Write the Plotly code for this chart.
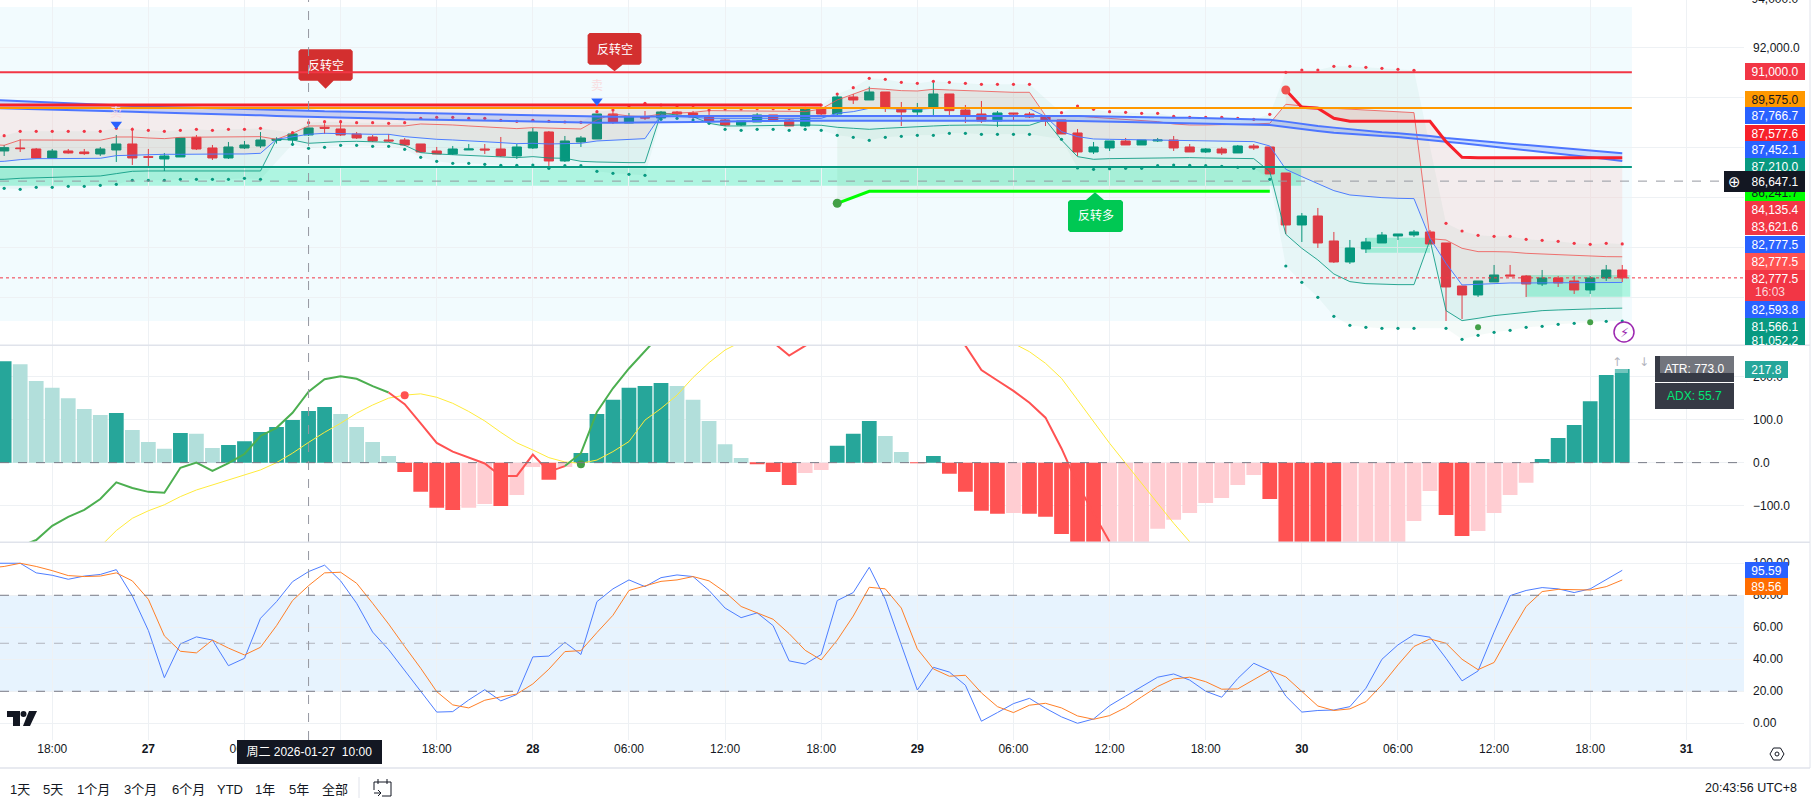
import pandas as pd
import plotly.graph_objects as go

W, H = 1813, 807
FONT = "Liberation Sans, Noto Sans CJK SC, sans-serif"

# BTC 1h bars, 2026-01-26 14:00 -> 2026-01-30 20:00 (first bar sits just off the left edge)
times = pd.date_range("2026-01-26 14:00", periods=103, freq="h")

opens = [87760,
         87853,87973,87933,87573,87853,87813,87733,87893,88133,87627,
         87533,87613,88400,87973,87573,87973,88053,88280,88293,88493,
         88800,88733,88533,88413,88293,88293,88133,87853,87733,87893,
         87933,87933,87653,87973,88613,87453,88213,88333,89333,88973,
         89213,89173,89413,89373,89253,89093,88893,89013,89293,89093,
         88853,89533,89333,90013,89893,90213,89573,89413,89613,90133,
         89493,89333,89053,89373,89333,89253,89093,88573,87813,87973,
         88253,88093,88253,88293,88013,87813,87933,87773,88053,88013,
         86973,84893,85253,84253,83413,83933,84173,84453,84493,84613,
         84173,82453,82093,82613,82893,82853,82533,82773,82653,82293,
         82773,83093]
highs = [87990,
         88093,88320,87973,87933,87933,87933,88013,88493,88787,87933,
         87773,88373,88493,88093,88213,88253,88613,88400,88613,88853,
         88960,89093,88613,88493,88533,88373,88133,88013,88053,88133,
         88133,88413,88133,88773,88653,88453,88453,89333,89493,89373,
         89453,89453,89453,89453,89533,89133,89053,89373,89293,89133,
         89533,89627,90160,90133,90427,90213,89813,89773,90627,90133,
         89693,89853,89453,89373,89413,89253,89093,88733,88213,88253,
         88373,88293,88373,88453,88133,87973,88013,88093,88133,88013,
         86973,85373,85573,84613,84293,84373,84613,84533,84693,84693,
         84173,82453,82653,83293,83293,82893,83093,82853,82853,82853,
         83293,83293]
lows = [87640,
        87653,87813,87560,87573,87747,87693,87653,87413,87293,87253,
        87053,87613,87893,87493,87533,87933,87973,88147,88053,88453,
        88533,88453,88333,88213,88213,88053,87813,87733,87693,87893,
        87733,87613,87533,87933,87253,87413,88013,88333,88933,88973,
        89093,89093,89133,89093,88933,88853,88853,89013,89053,88853,
        88813,89293,89253,89733,89893,89413,88853,89253,89227,89293,
        88973,88973,88813,89093,89173,88853,88533,87653,87733,87853,
        88093,88093,88213,87853,87813,87773,87693,87773,87893,86933,
        84533,84213,83973,83373,83333,83773,84173,84293,84413,84133,
        81053,81133,82013,82613,82853,82013,82453,82413,82133,82133,
        82653,82613]
closes = [87853,
          87987,87947,87573,87853,87773,87747,87933,88133,87573,87600,
          87653,88373,87933,87573,88013,88093,88293,88320,88533,88773,
          88760,88493,88373,88253,88253,88093,87813,87733,87933,87933,
          87893,87653,88013,88613,87453,88253,88373,89333,89013,89213,
          89173,89413,89333,89213,89053,88893,89053,89293,89053,88853,
          89533,89333,90013,89893,90213,89573,89413,89560,90133,89467,
          89293,89053,89373,89333,89213,89053,88533,87813,88013,88253,
          88093,88293,88293,87973,87813,87933,87773,88053,87973,86933,
          84893,85253,84173,83413,83973,84213,84493,84533,84613,84133,
          82413,82093,82653,82893,82853,82533,82773,82573,82293,82773,
          83093,82777.5]

# thin envelope lines
env_upper = [88120,
             88080,88293,88290,88295,88293,88290,88285,88413,88413,88373,
             88347,88400,88400,88400,88400,88413,88427,88320,88560,88853,
             88853,88853,88853,88840,88840,88853,88933,88920,88893,88853,
             88827,88773,88747,88787,88760,88733,88733,89093,89333,89253,
             89226,89333,89360,89400,89467,89467,89467,89453,89440,89440,
             89427,89533,89893,90133,90360,90320,90267,90253,90320,90293,
             90267,90227,90213,90200,90200,89267,89253,89253,89200,89160,
             89120,89093,89027,88933,88893,88893,88893,88920,88933,88960,
             89720,89653,89600,89560,89520,89493,89453,89427,89387,84347,
             84293,83960,83827,83827,83813,83760,83733,83680,83653,83627,
             83627,83621.6]
env_mid = [87420,
           87440,87507,87547,87547,87560,87560,87560,87667,87693,87707,
           87720,87720,87733,87733,87733,87733,87760,88320,88427,88520,
           88560,88560,88533,88520,88520,88427,88360,88320,88293,88267,
           88240,88187,88147,88160,88133,88133,88160,88253,88280,88293,
           88347,89293,89226,89200,89160,89160,89160,89160,89160,89160,
           89160,89160,89360,89427,89560,89547,89533,89520,89560,89560,
           89547,89547,89547,89547,89547,89226,88627,88427,88333,88320,
           88307,88293,88280,88267,88253,88240,88227,88227,88227,88053,
           87120,86827,86560,86267,86093,86027,85987,85960,85947,84360,
           83360,82493,82520,82560,82573,82573,82573,82573,82573,82573,
           82573,82593.8]
env_lower = [86715,
             86720,86760,86773,86787,86813,86827,86853,86947,87040,87053,
             87053,87053,87053,87053,87053,87053,87053,88320,88293,88160,
             88200,88227,88240,88227,88200,88080,87787,87733,87707,87680,
             87653,87600,87587,87627,87573,87560,87440,87413,87387,87387,
             87387,89360,89293,89226,88960,88853,88853,88867,88867,88867,
             88893,88880,88800,88760,88720,88760,88800,88827,88853,88880,
             88893,88893,88880,88880,88880,89093,88293,87627,87520,87547,
             87560,87573,87587,87600,87587,87573,87560,87560,87547,87027,
             84520,83960,83493,82933,82627,82547,82520,82507,82507,84293,
             81467,81067,81160,81267,81333,81400,81467,81493,81520,81545,
             81555,81566.1]

# stop dots above and below price
dots_upper = [88440,
              88467,88640,88640,88640,88640,88640,88640,88760,88720,88680,
              88640,88680,88720,88680,88720,88720,88760,None,88587,88987,
              89027,89027,88987,88987,88960,88987,89160,89200,89200,89160,
              89160,89080,89040,89080,89040,89013,89000,89427,89493,89653,
              89760,89693,89653,89600,89493,89533,89533,89547,89547,89547,
              89560,89693,90133,90387,90760,90720,90600,90560,90640,90600,
              90560,90520,90520,90520,90520,None,89387,89653,89520,89427,
              89400,89360,89360,89240,89200,89200,89200,89160,89120,89320,
              91000,91093,91093,91240,91240,91200,91160,91120,91080,None,
              84960,84653,84480,84440,84440,84320,84280,84240,84160,84120,
              84160,84135.4]
dots_lower = [86350,
              86360,86320,86400,86400,86440,86440,86480,86520,86680,86680,
              86680,86720,86720,86720,86720,86760,86720,None,88120,87960,
              88000,88080,88080,88040,88040,87920,87600,87440,87360,87360,
              87320,87280,87280,87293,87160,87267,87267,87040,86960,86920,
              86880,89120,89160,89093,88960,88720,88680,88720,88720,88680,
              88720,88680,88480,88400,88280,88400,88440,88480,88480,88560,
              88560,88520,88520,88520,88520,None,88320,87173,87120,87147,
              87160,87160,87267,87293,87280,87267,87240,87200,87160,86720,
              83253,82600,82000,81240,80880,80800,80760,80760,80760,None,
              80760,80320,80480,80600,80680,80800,80840,80920,80960,81000,
              81040,81052.2]

# thick trend lines
trend_red = [89693] * 53 + [None] * 28 + [90293,89600,89560,89160,89040,89040,89040,89040,89040,89040,
             88227,87600,87577.6,87577.6,87577.6,87577.6,87577.6,87577.6,87577.6,87577.6,87577.6,87577.6]
trend_lime = [None] * 53 + [85760,86013] + [86241.7] * 26 + [None] * 22

ema_top = [89905,
           89880,89853,89827,89800,89773,89747,89720,89680,89653,89627,
           89613,89600,89587,89573,89560,89547,89533,89507,89480,89467,
           89440,89427,89413,89400,89387,89373,89360,89347,89333,89320,
           89307,89293,89280,89267,89253,89240,89226,89226,89226,89226,
           89240,89240,89240,89253,89253,89253,89253,89267,89267,89267,
           89267,89267,89280,89280,89280,89280,89280,89280,89280,89280,
           89280,89280,89280,89280,89280,89280,89267,89253,89240,89226,
           89213,89200,89200,89187,89187,89173,89173,89160,89147,89107,
           89027,88933,88853,88787,88720,88653,88600,88560,88520,88453,
           88373,88307,88253,88200,88147,88093,88040,87987,87933,87880,
           87827,87766.7]
ema_bottom = [89575,
              89560,89547,89533,89520,89507,89493,89467,89440,89427,89400,
              89387,89360,89347,89333,89320,89293,89280,89253,89240,89226,
              89200,89187,89173,89160,89147,89120,89107,89093,89080,89067,
              89053,89040,89027,89013,89000,88987,88987,88987,88987,88987,
              89000,89000,89013,89013,89027,89027,89040,89053,89053,89067,
              89067,89080,89080,89093,89093,89093,89093,89093,89093,89093,
              89093,89093,89093,89093,89093,89080,89067,89053,89040,89027,
              89013,89000,89000,88987,88973,88960,88960,88947,88933,88893,
              88813,88720,88653,88587,88533,88493,88453,88413,88360,88293,
              88227,88160,88093,88013,87947,87880,87813,87747,87680,87613,
              87533,87452.1]

# MACD pane
macd_hist = [240,
             236,229,190,174,150,125,111,115.5,76,48,
             32,69,67,34,41,50,71,83,99,120,
             129.5,113,83,48,15.5,-22,-68,-105,-110,-105,
             -96,-101,-75,-10,-40,-10,22.5,113,146,174,
             178,185,178,146,97,43,11,-2,-22,-52,
             -24,-17,39,67,97,62,25,-1,15.5,-26,
             -68,-112,-119,-117,-119,-126,-166,-190,-195,-200,
             -190,-185,-154,-133,-117,-94,-82,-52,-29,-84.5,
             -195,-205,-200,-195,-192,-190,-188,-186,-136,-66,
             -122,-170.5,-159,-117,-75,-47,8.5,57,87.5,143,
             204,217.8]
hist_states = ("D" "DLLLLLLDLL" "LDLLDDDDDD" "DLLLLRRRRP" "PRPPRPDDDD" "DDLLLLLRRR"
               "PPDDDLLRDR" "RRRPRRRRRP" "PPPPPPPPPR" "RRRRPPPPPP" "RRPPPPDDDD" "DD")
macd_fast = [-235,
             -215,-195,-180,-147,-126,-110,-84.5,-46,-59,-68,
             -70,-12,0,-19,-1,20,62,81,116,165,
             194,201,195,178,163,136,91.5,46,25.6,11.6,
             -2,-31,-31,18.6,-21,-8,22,118,173,219,
             258,300,325,340,345,340,325,300,280,249,
             272,295,320,340,350,355,350,340,325,300,
             272,215.5,191,167,139.5,104.6,33,-50,-118,-184]
macd_signal = [None,
               None,None,None,None,None,None,-195,-158,-129.5,-112,
               -98,-79,-63.6,-52,-40,-29,-17,0,22,47,
               70.5,91.5,115,134,150,157,160,152,138,119,
               97,70.5,46,29.5,11.6,1.5,-1.6,6,25.6,49,
               99,126,157,198,232.6,262,281,300,315,325,
               330,335,335,335,330,330,325,320,315,305,
               295,290,285,277.5,258,231,196,146,95,45,
               -1.6,-48,-94.6,-141,-184,-225]

# stochastic pane
stoch_k = [100,
           100,100,94,92.5,90,92,93,96,79.6,58,
           28.5,49.6,54,52,36,40.6,65.6,76,88.5,94.8,
           98.8,89,75,57,46,33,19.8,7,7.3,14.6,
           21,14,18,41.5,42,50.6,43,76,84,89.6,
           85.4,91,92.7,91.7,83,72,66,69,61,39,
           37,43,76.7,81.7,97.5,77.5,49,20.8,35,32,
           23.8,1.3,6.7,12.3,15.6,9.4,4,0,2.7,11,
           17,23,28.8,30.8,27,20,16.3,28,37.5,33,
           17,7,8,8.3,10.4,21.9,40,49,55.4,53.8,
           40.6,26.5,32.7,57,79.8,83,84.8,84,81.7,84,
           89.8,95.59]
stoch_d = [97,
           98,100,98,95.4,92.3,91.7,92,94,89,77.5,
           54.6,45,44,52,47,42.7,47.5,61,76.7,86,
           94,94.4,87.5,75,62,48,34.4,19.8,11.5,9.6,
           14.4,16.5,18.3,24.6,33.8,44.8,45.4,56.7,67.5,83,
           86,88.7,89.6,91.7,89,82,73,69,65,56,
           45.6,39.6,52,67,85,84,72,46.5,34,29.4,
           30,19,10.4,6.7,11.3,12.5,9.6,4.6,2.5,4.8,
           9.8,16.5,23,27.7,28.8,26,21.3,21.5,27,33,
           29,19.8,10.8,8,9,13.5,24,36.5,48,52.7,
           50,40,33.5,38,56,73,82.3,83.7,83.3,83.3,
           85.4,89.56]

# horizontal levels and zones on the price pane
level_red = 91000
level_orange = 89575
level_teal = 87210
last_price = 82777.5
cross_price = 86647.1
cross_time = "2026-01-27 10:00"
band_top, band_bottom = 93613, 81053
zones = [("2026-01-26 14:00", "2026-01-30 00:00", 87160, 86465),
         ("2026-01-30 04:00", "2026-01-30 08:00", 84387, 83786),
         ("2026-01-30 14:00", "2026-01-30 20:30", 82893, 82027)]

tick_times = pd.date_range("2026-01-26 18:00", "2026-01-31 00:00", freq="6h")
tick_text = ["<b>%d</b>" % t.day if t.hour == 0 else t.strftime("%H:%M") for t in tick_times]

price_labels = [("91,000.0", 72, "#f23645", "white"),
                ("89,575.0", 99, "#ff9800", "#131722"),
                ("87,766.7", 116, "#2962ff", "white"),
                ("87,577.6", 133, "#f7202a", "white"),
                ("87,452.1", 150, "#2962ff", "white"),
                ("87,210.0", 167, "#089981", "white"),
                ("85,760.0", 204, "#00ff00", "#131722"),
                ("86,241.7", 192, "#00ff00", "#131722"),
                ("84,135.4", 210, "#f23645", "white"),
                ("83,621.6", 227, "#f23645", "white"),
                ("82,777.5", 244, "#2962ff", "white"),
                ("82,777.5", 261, "#ff5252", "white"),
                ("82,777.5", 278, "#f23645", "white"),
                ("", 292, "#f23645", "white"),
                ("82,593.8", 309, "#2962ff", "white"),
                ("81,566.1", 326, "#089981", "white")]


def px(x):
    return x / W


def py(y):
    return 1 - y / H


def poly(points):
    return "M" + " L".join("%.5f,%.5f" % (px(a), py(b)) for a, b in points) + " Z"


def band(top, bottom, color, x=times):
    # polygon between two series, one per run of values
    run = []
    for i in range(len(x) + 1):
        if i < len(x) and top[i] is not None and bottom[i] is not None:
            run.append(i)
        elif run:
            xs = [x[j] for j in run] + [x[j] for j in reversed(run)]
            ys = [top[j] for j in run] + [bottom[j] for j in reversed(run)]
            fig.add_trace(go.Scatter(x=xs, y=ys, mode="none", fill="toself", fillcolor=color, hoverinfo="skip"))
            run = []


fig = go.Figure()

# fills first
keep = [i for i in range(103) if dots_upper[i] is not None]
band([dots_upper[i] for i in keep], [dots_lower[i] for i in keep], "rgba(0,130,90,0.045)", [times[i] for i in keep])
band(trend_red, env_upper, "rgba(250,80,60,0.085)")
band(env_upper, env_mid, "rgba(180,70,30,0.09)")
band(env_mid, env_lower, "rgba(8,153,100,0.04)")
band(env_lower, trend_lime, "rgba(76,175,80,0.07)")

for y, color in ((env_upper, "rgba(239,83,80,0.8)"), (env_mid, "#4d7dff"), (env_lower, "rgba(8,153,129,0.85)")):
    fig.add_trace(go.Scatter(x=times, y=y, mode="lines", line=dict(color=color, width=1), hoverinfo="skip"))

fig.add_trace(go.Scatter(x=times, y=dots_upper, mode="markers", marker=dict(color="#f23645", size=3.2), hoverinfo="skip"))
fig.add_trace(go.Scatter(x=times, y=dots_lower, mode="markers", marker=dict(color="#089981", size=3.2), hoverinfo="skip"))

fig.add_trace(go.Candlestick(x=times, open=opens, high=highs, low=lows, close=closes, whiskerwidth=0,
                             increasing=dict(line=dict(color="#089981", width=1), fillcolor="#089981"),
                             decreasing=dict(line=dict(color="#f23645", width=1), fillcolor="#f23645")))

band(ema_top, ema_bottom, "rgba(41,98,255,0.2)")
fig.add_trace(go.Scatter(x=times, y=ema_top, mode="lines", line=dict(color="#4d76ff", width=2), hoverinfo="skip"))
fig.add_trace(go.Scatter(x=times, y=ema_bottom, mode="lines", line=dict(color="#4d76ff", width=2), hoverinfo="skip"))
fig.add_trace(go.Scatter(x=times, y=trend_red, mode="lines", line=dict(color="#f7202a", width=3), hoverinfo="skip"))
fig.add_trace(go.Scatter(x=times, y=trend_lime, mode="lines", line=dict(color="#00ff00", width=3), hoverinfo="skip"))

# signal markers
fig.add_trace(go.Scatter(x=[times[81], times[53]], y=[trend_red[81], trend_lime[53]], mode="markers",
                         marker=dict(color=["#ef5350", "#43a047"], size=9), hoverinfo="skip"))
fig.add_trace(go.Scatter(x=[times[93], times[100]], y=[80800, 81000], mode="markers",
                         marker=dict(color="#43a047", size=6), hoverinfo="skip"))
fig.add_trace(go.Scatter(x=[times[8], times[38]], y=[88921, 89853], mode="markers",
                         marker=dict(color="#2962ff", size=10, symbol="triangle-down"), hoverinfo="skip"))

# MACD
hist_colors = {"D": "#26a69a", "L": "#b2dfdb", "R": "#ff5252", "P": "#ffcdd2"}
fig.add_trace(go.Bar(x=times, y=macd_hist, marker=dict(color=[hist_colors[s] for s in hist_states], line_width=0),
                     yaxis="y2", hoverinfo="skip"))
fig.add_trace(go.Scatter(x=times[:len(macd_signal)], y=macd_signal, mode="lines", yaxis="y2",
                         line=dict(color="#ffeb3b", width=1), hoverinfo="skip"))
for start, end, color in ((0, 26, "#4caf50"), (25, 37, "#ff5252"), (36, 49, "#4caf50"), (48, 71, "#ff5252")):
    fig.add_trace(go.Scatter(x=times[start:end], y=macd_fast[start:end], mode="lines", yaxis="y2",
                             line=dict(color=color, width=2), hoverinfo="skip"))
fig.add_trace(go.Scatter(x=[times[26], times[37]], y=[157, -4], mode="markers", yaxis="y2",
                         marker=dict(color=["#ff5252", "#43a047"], size=8), hoverinfo="skip"))

# stochastic
fig.add_trace(go.Scatter(x=times, y=stoch_k, mode="lines", yaxis="y3", line=dict(color="#4d7dff", width=1), hoverinfo="skip"))
fig.add_trace(go.Scatter(x=times, y=stoch_d, mode="lines", yaxis="y3", line=dict(color="#ff7f27", width=1), hoverinfo="skip"))

t0 = pd.Timestamp("2026-01-27 00:00")
x_left = t0 + pd.Timedelta(hours=-9.26)
x_right = t0 + pd.Timedelta(hours=99.6)
band_end = times[-1] + pd.Timedelta(minutes=36)

shapes = []


def rect(x0, x1, y0, y1, color, layer="below", yref="y"):
    shapes.append(dict(type="rect", xref="x", yref=yref, x0=x0, x1=x1, y0=y0, y1=y1,
                       fillcolor=color, line_width=0, layer=layer))


def hline(y, x0, x1, color, width=1, dash="solid", yref="y"):
    shapes.append(dict(type="line", xref="x", yref=yref, x0=x0, x1=x1, y0=y, y1=y, layer="above",
                       line=dict(color=color, width=width, dash=dash)))


def pline(x0, y0, x1, y1, color="#e0e3eb", width=1):
    shapes.append(dict(type="line", xref="paper", yref="paper", x0=px(x0), x1=px(x1), y0=py(y0), y1=py(y1),
                       layer="above", line=dict(color=color, width=width)))


def shape_path(points, color=None, line=None):
    shapes.append(dict(type="path", xref="paper", yref="paper", path=poly(points), layer="above",
                       fillcolor=color or "rgba(0,0,0,0)", line=dict(color=line or "rgba(0,0,0,0)", width=1)))


rect(x_left, band_end, band_top, band_bottom, "#f2fbfe")
for z in zones:
    rect(z[0], z[1], z[2], z[3], "rgba(0,230,150,0.28)")
rect(x_left, x_right, 20, 80, "rgba(33,150,243,0.11)", yref="y3")

# callouts: box with chamfered corners and a pointer
for x0, x1, y0, y1, tip, color in ((298.5, 352.7, 49.3, 80.7, 88.7, "#d32f2f"), (587.6, 641.5, 33, 64.7, 71.3, "#d32f2f")):
    mid = (x0 + x1) / 2
    shape_path([(x0 + 2, y0), (x1 - 2, y0), (x1, y0 + 2), (x1, y1 - 2), (x1 - 2, y1), (mid + 8, y1), (mid, tip),
                (mid - 8, y1), (x0 + 2, y1), (x0, y1 - 2), (x0, y0 + 2)], color)
shape_path([(1070, 200), (1086, 200), (1095, 192.3), (1104, 200), (1121, 200), (1123, 202), (1123, 230), (1121, 232),
            (1070, 232), (1068, 230), (1068, 202)], "#00c853")

hline(level_red, x_left, band_end, "#f23645", 2)
hline(level_orange, x_left, band_end, "#ff9800", 2)
hline(level_teal, x_left, band_end, "#089981", 2)
hline(last_price, x_left, x_right, "#f23645", 1, "dot")
hline(cross_price, x_left, x_right, "#9598a1", 1, "dash")
hline(0, x_left, x_right, "#787b86", 1, "dash", "y2")
for v, c in ((80, "#787b86"), (50, "#b2b5be"), (20, "#787b86")):
    hline(v, x_left, x_right, c, 1, "dash", "y3")
shapes.append(dict(type="line", xref="x", yref="paper", x0=cross_time, x1=cross_time, y0=py(740), y1=1,
                   layer="above", line=dict(color="#9598a1", width=1, dash="dash")))

pline(0, 345.3, 1810, 345.3, width=1.5)
pline(0, 542.3, 1810, 542.3, width=1.5)
pline(0, 768, 1810, 768, width=1.5)
pline(1810, 0, 1810, 768, width=1)
pline(359, 777, 359, 798)

# TradingView mark
shape_path([(7, 711), (20, 711), (20, 726), (13, 726), (13, 717), (7, 717)], "#131722")
shape_path([(29, 711), (37, 711), (30, 726), (23, 726)], "#131722")
shapes.append(dict(type="circle", xref="paper", yref="paper", x0=px(20.5), x1=px(26.5), y0=py(717), y1=py(711),
                   fillcolor="#131722", line_width=0, layer="above"))

# lightning badge
shapes.append(dict(type="circle", xref="paper", yref="paper", x0=px(1614), x1=px(1634), y0=py(342), y1=py(322),
                   fillcolor="white", line=dict(color="#9c27b0", width=1.5), layer="above"))

# settings hexagon and calendar icon
shape_path([(1770, 754), (1773.5, 748), (1780.5, 748), (1784, 754), (1780.5, 760), (1773.5, 760)], None, "#131722")
shapes.append(dict(type="circle", xref="paper", yref="paper", x0=px(1775), x1=px(1779), y0=py(756), y1=py(752),
                   line=dict(color="#131722", width=1), layer="above"))
pline(374, 782, 391, 782, "#131722")
pline(391, 782, 391, 796, "#131722")
pline(382, 796, 391, 796, "#131722")
pline(374, 782, 374, 790, "#131722")
pline(378, 779, 378, 784, "#131722")
pline(387, 779, 387, 784, "#131722")
pline(374, 793, 381, 793, "#131722")
pline(378, 790, 381, 793, "#131722")
pline(378, 796, 381, 793, "#131722")

annotations = []


def text(x, y, s, size=12, color="#131722", anchor="center", family=FONT):
    annotations.append(dict(xref="paper", yref="paper", x=px(x), y=py(y), text=s, showarrow=False, xanchor=anchor,
                            yanchor="middle", font=dict(family=family, size=size, color=color)))


def label(s, y, bg, fg, x0=1745, x1=1805, h=17, valign="middle"):
    annotations.append(dict(xref="paper", yref="paper", x=px(x0), y=py(y), text=s or " ", showarrow=False, xanchor="left",
                            yanchor="middle", width=x1 - x0, height=h, bgcolor=bg, borderpad=0, borderwidth=0,
                            align="center", valign=valign, font=dict(family=FONT, size=12, color=fg)))


# 94,000.0 is cut by the window edge, 81,052.2 by the pane line
label("94,000.0", 3, "white", "#131722", h=6, valign="bottom")
for s, y, bg, fg in price_labels:
    label(s, y, bg, fg)
text(1753, 292, "16:03", 12, "#fbd5d8", anchor="left")
label("81,052.2", 339.5, "#089981", "white", h=11, valign="top")
label(" ", 181.5, "#131722", "white", 1724, 1745, 21)
text(1734.5, 181.5, "⊕", 15, "white", family="DejaVu Sans")
label("86,647.1", 181.5, "#131722", "white", 1745, 1805, 21)

label("217.8", 369, "#26a69a", "white", 1745, 1788)
label("95.59", 570, "#2962ff", "white", 1745, 1788)
label("89.56", 586.7, "#ff6d00", "white", 1745, 1788)

text(325.5, 65, "反转空", 12, "white")
text(614.5, 49, "反转空", 12, "white")
text(1095.5, 216, "反转多", 12, "white")
text(116, 113, "卖", 12, "#f8dde0")
text(597, 86, "卖", 12, "#f8dde0")
text(1624, 332, "⚡", 13, "#9c27b0", family="DejaVu Sans")

# ATR / ADX readout with the pane buttons over it
label("ATR: 773.0", 369, "#363a45", "white", 1655, 1734, 25.5)
label("ADX: 55.7", 396, "#363a45", "#00e676", 1655, 1734, 26)
label(" ", 364.5, "rgba(255,255,255,0.3)", "white", 1660, 1734, 17)
label(" ", 361.5, "rgba(255,255,255,0.35)", "white", 1605, 1628, 23)
label(" ", 361.5, "rgba(255,255,255,0.35)", "white", 1633, 1655, 23)
text(1617, 362, "↑", 12, "#b2b5be", family="DejaVu Sans")
text(1644, 362, "↓", 12, "#b2b5be", family="DejaVu Sans")

label("周二 2026-01-27  10:00", 752, "#131722", "white", 237, 381.6, 24)

for x, s in ((20, "1天"), (53, "5天"), (93, "1个月"), (140, "3个月"), (188, "6个月"), (230, "YTD"), (265, "1年"), (298.5, "5年"), (335, "全部")):
    text(x, 789, s, 13)
text(1799, 788, "20:43:56 UTC+8", 12.5, anchor="right")

grid = "#eef1f4"
fig.update_layout(
    width=W, height=H, margin=dict(l=0, r=0, t=0, b=0), paper_bgcolor="white", plot_bgcolor="white",
    showlegend=False, bargap=0.08, boxgap=0.18, boxmode="overlay", hovermode=False,
    font=dict(family=FONT, size=12, color="#131722"),
    shapes=shapes, annotations=annotations,
    xaxis=dict(type="date", domain=[0, 1744 / W], range=[x_left, x_right], anchor="y3", tickmode="array",
               tickvals=list(tick_times), ticktext=tick_text, gridcolor=grid, showline=False, zeroline=False,
               rangeslider=dict(visible=False), ticks="", tickfont=dict(size=12)),
    yaxis=dict(domain=[py(345.3), 1], range=[80080, 93892], side="right", anchor="x", tickmode="array",
               tickvals=[82000, 84000, 86000, 88000, 90000, 92000],
               ticktext=["82,000.0", "84,000.0", "86,000.0", "88,000.0", "90,000.0", "92,000.0"],
               gridcolor=grid, zeroline=False, ticklabelstandoff=8),
    yaxis2=dict(domain=[py(542.3), py(345.3)], range=[-185.3, 272.9], side="right", anchor="x", tickmode="array",
                tickvals=[-100, 0, 100, 200], ticktext=["−100.0", "0.0", "100.0", "200.0"],
                gridcolor=grid, zeroline=False, ticklabelstandoff=8),
    yaxis3=dict(domain=[py(740), py(542.3)], range=[-10.44, 113.1], side="right", anchor="x", tickmode="array",
                tickvals=[0, 20, 40, 60, 80, 100], ticktext=["0.00", "20.00", "40.00", "60.00", "80.00", "100.00"],
                gridcolor=grid, zeroline=False, ticklabelstandoff=8),
)

fig.write_html("out.html", config={"displayModeBar": False}, post_script="document.body.style.margin='0';")
